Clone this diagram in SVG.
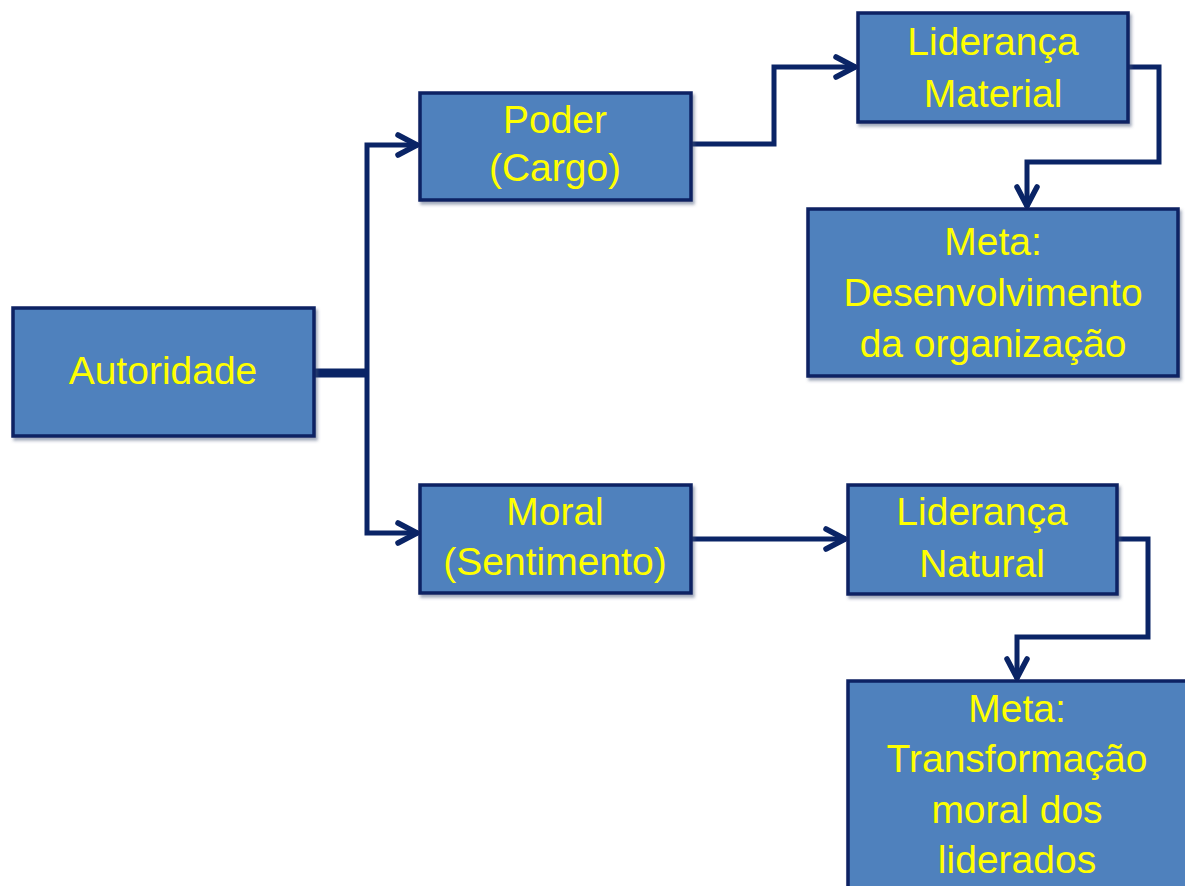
<svg xmlns="http://www.w3.org/2000/svg" width="1185" height="886" viewBox="0 0 1185 886">
  <style>
    .box { fill: #4F81BD; stroke: #0B2163; stroke-width: 3.5; filter: url(#sh); }
    .lbl { font-family: "Liberation Sans", Arial, sans-serif; font-size: 39px; fill: #FFFF00; text-anchor: middle; }
    .con { fill: none; stroke: #0A2466; stroke-width: 5; stroke-linejoin: miter; }
    .thick { stroke-width: 9; }
  </style>
  <defs>
    <filter id="sh" x="-5%" y="-5%" width="115%" height="120%">
      <feDropShadow dx="2" dy="3" stdDeviation="1.5" flood-color="#44557a" flood-opacity="0.5"/>
    </filter>
    <marker id="arr" markerUnits="userSpaceOnUse" markerWidth="30" markerHeight="30" viewBox="-26 -15 30 30" refX="0" refY="0" orient="auto">
      <path d="M-20,-10 L-1,0 L-20,10" fill="none" stroke="#0A2466" stroke-width="5.5" stroke-linecap="round" stroke-linejoin="round"/>
    </marker>
  </defs>
  <rect width="1185" height="886" fill="#FFFFFF"/>

  <g id="connectors">
    <path class="con thick" d="M314,373 H369"/>
    <path class="con" d="M367,373 V145 H418" marker-end="url(#arr)"/>
    <path class="con" d="M367,373 V533 H418" marker-end="url(#arr)"/>
    <path class="con" d="M691,144 H774 V67 H856" marker-end="url(#arr)"/>
    <path class="con" d="M1128,67 H1159 V162 H1027 V207" marker-end="url(#arr)"/>
    <path class="con" d="M691,539 H846" marker-end="url(#arr)"/>
    <path class="con" d="M1117,539 H1148 V637 H1017 V679" marker-end="url(#arr)"/>
  </g>

  <g id="autoridade">
    <rect class="box" x="13" y="308" width="301" height="128"/>
    <text class="lbl" x="163" y="384">Autoridade</text>
  </g>
  <g id="poder">
    <rect class="box" x="420" y="93" width="271" height="107"/>
    <text class="lbl" x="555" y="133">Poder</text>
    <text class="lbl" x="555" y="181">(Cargo)</text>
  </g>
  <g id="moral">
    <rect class="box" x="420" y="485" width="271" height="108"/>
    <text class="lbl" x="555" y="525">Moral</text>
    <text class="lbl" x="555" y="575">(Sentimento)</text>
  </g>
  <g id="lideranca-material">
    <rect class="box" x="858" y="13" width="270" height="109"/>
    <text class="lbl" x="993" y="55">Liderança</text>
    <text class="lbl" x="993" y="107">Material</text>
  </g>
  <g id="lideranca-natural">
    <rect class="box" x="848" y="485" width="269" height="109"/>
    <text class="lbl" x="982" y="525">Liderança</text>
    <text class="lbl" x="982" y="577">Natural</text>
  </g>
  <g id="meta-organizacao">
    <rect class="box" x="808" y="209" width="370" height="167"/>
    <text class="lbl" x="993" y="255">Meta:</text>
    <text class="lbl" x="993" y="306">Desenvolvimento</text>
    <text class="lbl" x="993" y="357">da organização</text>
  </g>
  <g id="meta-transformacao">
    <rect class="box" x="848" y="681" width="345" height="220"/>
    <text class="lbl" x="1017" y="722">Meta:</text>
    <text class="lbl" x="1017" y="772">Transformação</text>
    <text class="lbl" x="1017" y="823">moral dos</text>
    <text class="lbl" x="1017" y="873">liderados</text>
  </g>
</svg>
